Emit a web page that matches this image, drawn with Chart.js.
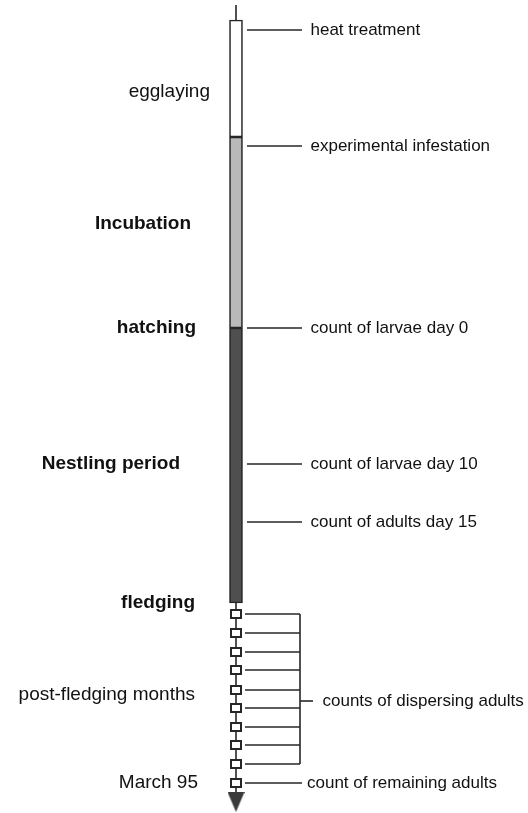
<!DOCTYPE html>
<html>
<head>
<meta charset="utf-8">
<script src="https://cdn.jsdelivr.net/npm/chart.js@4"></script>
<style>
  html, body { margin: 0; padding: 0; background: #fff; }
  #wrap { width: 528px; height: 813px; position: relative; }
</style>
</head>
<body>
<div id="wrap"><canvas id="timeline"></canvas></div>
<script>
// positions along the timeline (0 = top of the figure, runs downwards)
const stemTop = 5
const phaseNames = ['egglaying', 'incubation', 'nestling period']
const phaseStart = [20, 137, 328]
const phaseEnd = [137, 328, 603]
const monthMarks = [614, 633, 652, 670, 690, 708, 727, 745, 764, 783]
const arrowAt = 802

const stageLabels = ['egglaying', 'Incubation', 'hatching', 'Nestling period', 'fledging', 'post-fledging months', 'March 95']
const stageAt = [92, 224, 328, 464, 603, 695, 783]
const stageBold = [false, true, true, true, true, false, false]

const eventLabels = ['heat treatment', 'experimental infestation', 'count of larvae day 0', 'count of larvae day 10', 'count of adults day 15']
const eventAt = [30, 146, 328, 464, 522]

const dispersingLabel = 'counts of dispersing adults'
const dispersingAt = 701
const remainingLabel = 'count of remaining adults'

// styling
const ink = '#262626'
const phaseColors = ['#ffffff', '#b9b9b9', '#4f4f4f']
const stageEdge = [-26, -45, -40, -56, -41, -41, -38]   // right edge of left labels, relative to the axis
const font = '"Liberation Sans", Arial, Helvetica, sans-serif'

function boxImage(w, h) {
    const c = document.createElement('canvas')
    c.width = w; c.height = h
    const g = c.getContext('2d')
    g.fillStyle = '#fff'
    g.fillRect(0, 0, w, h)
    g.strokeStyle = ink
    g.lineWidth = 2
    g.strokeRect(1, 1, w - 2, h - 2)
    return c
}

function arrowImage(w, h) {
    const c = document.createElement('canvas')
    c.width = w; c.height = h
    const g = c.getContext('2d')
    g.fillStyle = '#3a3a3a'
    g.beginPath()
    g.moveTo(0, 0)
    g.lineTo(w, 0)
    g.lineTo(w / 2, h)
    g.closePath()
    g.fill()
    return c
}

const annotate = {
    id: 'annotate',
    afterDatasetsDraw(chart) {
        const ctx = chart.ctx
        const px = v => chart.scales.x.getPixelForValue(v)
        const py = v => chart.scales.y.getPixelForValue(v)
        function hline(x1, x2, y) {
            ctx.beginPath()
            ctx.moveTo(px(x1), py(y))
            ctx.lineTo(px(x2), py(y))
            ctx.stroke()
        }
        ctx.save()
        ctx.strokeStyle = ink
        ctx.lineWidth = 1.6
        ctx.fillStyle = '#111'
        ctx.textBaseline = 'middle'

        // events on the right
        ctx.font = '17px ' + font
        ctx.textAlign = 'left'
        eventAt.forEach((y, i) => {
            hline(11, 66, y)
            ctx.fillText(eventLabels[i], px(74.5), py(y))
        })

        // monthly counts bracket
        const disp = monthMarks.slice(0, -1)
        disp.forEach(y => hline(9, 64, y))
        ctx.beginPath()
        ctx.moveTo(px(64), py(disp[0]))
        ctx.lineTo(px(64), py(disp[disp.length - 1]))
        ctx.stroke()
        hline(64, 77, dispersingAt)
        ctx.fillText(dispersingLabel, px(86.5), py(dispersingAt))

        const last = monthMarks[monthMarks.length - 1]
        hline(9, 66, last)
        ctx.fillText(remainingLabel, px(71), py(last))

        // stages on the left
        ctx.textAlign = 'right'
        stageLabels.forEach((t, i) => {
            ctx.font = (stageBold[i] ? 'bold ' : '') + '19px ' + font
            ctx.fillText(t, px(stageEdge[i]), py(stageAt[i]))
        })
        ctx.restore()
    }
}

const chart = new Chart(document.getElementById('timeline'), {
    type: 'bar',
    data: {
        datasets: [
            {
                type: 'line',
                label: 'axis',
                data: [{x: 0, y: stemTop}, {x: 0, y: arrowAt}],
                borderColor: ink,
                borderWidth: 1.6,
                pointRadius: 0,
                order: 3
            },
            {
                type: 'bar',
                label: 'phases',
                data: phaseNames.map((n, i) => ({x: 0, y: [phaseStart[i], phaseEnd[i]]})),
                backgroundColor: phaseColors,
                borderColor: ink,
                borderWidth: 1.6,
                borderSkipped: false,
                barThickness: 13,
                order: 2
            },
            {
                type: 'scatter',
                label: 'months',
                data: monthMarks.map(y => ({x: 0, y: y})),
                pointStyle: boxImage(12, 10),
                pointRadius: 6,
                order: 1
            },
            {
                type: 'scatter',
                label: 'arrow',
                data: [{x: 0, y: arrowAt}],
                pointStyle: arrowImage(17, 20),
                pointRadius: 6,
                order: 0
            }
        ]
    },
    options: {
        responsive: true,
        maintainAspectRatio: false,
        animation: false,
        events: [],
        layout: { padding: 0, autoPadding: false },
        plugins: { legend: { display: false }, tooltip: { enabled: false } },
        scales: {
            x: { type: 'linear', min: -236, max: 292, offset: false, display: false },
            y: { type: 'linear', min: 0, max: 813, reverse: true, display: false }
        }
    },
    plugins: [annotate]
})
</script>
</body>
</html>
